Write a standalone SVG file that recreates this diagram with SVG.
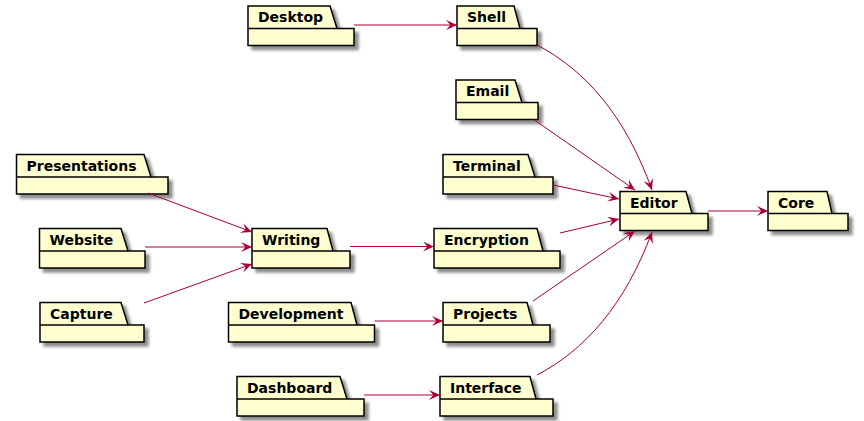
<svg xmlns="http://www.w3.org/2000/svg" width="864" height="421" viewBox="0 0 864 421">
<defs>
<filter id="sh" x="-10%" y="-20%" width="130%" height="160%">
<feGaussianBlur in="SourceAlpha" stdDeviation="1.8" result="b"/>
<feOffset in="b" dx="4" dy="4" result="o"/>
<feComponentTransfer in="o" result="c"><feFuncA type="linear" slope="0.45"/></feComponentTransfer>
<feMerge><feMergeNode in="c"/><feMergeNode in="SourceGraphic"/></feMerge>
</filter>
<marker id="ah" markerUnits="userSpaceOnUse" markerWidth="11" markerHeight="10" viewBox="0 0 10 9" refX="10" refY="4.5" orient="auto">
<path d="M0,0 L10,4.5 L0,9 L4,4.5 Z" fill="#A80036"/>
</marker>
</defs>
<style>
.pk{fill:#FEFECE;stroke:#000;stroke-width:1.5;filter:url(#sh)}
.ln{fill:none;stroke:#000;stroke-width:1.5}
.t{font-family:"DejaVu Sans",sans-serif;font-weight:bold;font-size:14px;fill:#000}
.e{fill:none;stroke:#A80036;stroke-width:1;marker-end:url(#ah)}
</style>
<rect width="864" height="421" fill="#fff"/>
<g id="Desktop"><path class="pk" d="M248,6 L330,6 L337,28.5 L354,28.5 L354,45.5 L248,45.5 Z"/><path class="ln" d="M248,28.5 L337,28.5"/><text class="t" x="258" y="22">Desktop</text></g>
<g id="Shell"><path class="pk" d="M457,6 L514,6 L520,28.5 L537,28.5 L537,45.5 L457,45.5 Z"/><path class="ln" d="M457,28.5 L520,28.5"/><text class="t" x="467" y="22">Shell</text></g>
<g id="Email"><path class="pk" d="M456,80 L515,80 L522,102.5 L538,102.5 L538,119.5 L456,119.5 Z"/><path class="ln" d="M456,102.5 L522,102.5"/><text class="t" x="466" y="96">Email</text></g>
<g id="Terminal"><path class="pk" d="M443,154.5 L528,154.5 L535,177 L553,177 L553,194 L443,194 Z"/><path class="ln" d="M443,177 L535,177"/><text class="t" x="453" y="170.5">Terminal</text></g>
<g id="Editor"><path class="pk" d="M620,191.5 L686,191.5 L692,213.5 L708,213.5 L708,230.5 L620,230.5 Z"/><path class="ln" d="M620,213.5 L692,213.5"/><text class="t" x="630" y="207.5">Editor</text></g>
<g id="Core"><path class="pk" d="M768,191.5 L827,191.5 L832,213.5 L848,213.5 L848,230.5 L768,230.5 Z"/><path class="ln" d="M768,213.5 L832,213.5"/><text class="t" x="778" y="207.5">Core</text></g>
<g id="Presentations"><path class="pk" d="M16.5,154.5 L144,154.5 L151,177 L168,177 L168,194 L16.5,194 Z"/><path class="ln" d="M16.5,177 L151,177"/><text class="t" x="26.5" y="170.5">Presentations</text></g>
<g id="Website"><path class="pk" d="M39.5,228.5 L121,228.5 L128,251 L145,251 L145,268 L39.5,268 Z"/><path class="ln" d="M39.5,251 L128,251"/><text class="t" x="49.5" y="244.5">Website</text></g>
<g id="Writing"><path class="pk" d="M252,228.5 L327,228.5 L333,251 L350,251 L350,268 L252,268 Z"/><path class="ln" d="M252,251 L333,251"/><text class="t" x="262" y="244.5">Writing</text></g>
<g id="Capture"><path class="pk" d="M40,302.5 L121,302.5 L128,325 L144,325 L144,342 L40,342 Z"/><path class="ln" d="M40,325 L128,325"/><text class="t" x="50" y="318.5">Capture</text></g>
<g id="Development"><path class="pk" d="M228.5,302.5 L351,302.5 L357,325 L374.5,325 L374.5,342 L228.5,342 Z"/><path class="ln" d="M228.5,325 L357,325"/><text class="t" x="238.5" y="318.5">Development</text></g>
<g id="Dashboard"><path class="pk" d="M237,376.5 L340,376.5 L347,399 L364,399 L364,416 L237,416 Z"/><path class="ln" d="M237,399 L347,399"/><text class="t" x="247" y="392.5">Dashboard</text></g>
<g id="Encryption"><path class="pk" d="M434,228.5 L537,228.5 L543,251 L560,251 L560,268 L434,268 Z"/><path class="ln" d="M434,251 L543,251"/><text class="t" x="444" y="244.5">Encryption</text></g>
<g id="Projects"><path class="pk" d="M443,302.5 L527,302.5 L533,325 L550,325 L550,342 L443,342 Z"/><path class="ln" d="M443,325 L533,325"/><text class="t" x="453" y="318.5">Projects</text></g>
<g id="Interface"><path class="pk" d="M440,376.5 L530,376.5 L536,399 L553,399 L553,416 L440,416 Z"/><path class="ln" d="M440,399 L536,399"/><text class="t" x="450" y="392.5">Interface</text></g>
<g id="connectors">
<path class="e" d="M354,25 L457,25"/>
<path class="e" d="M537,45 C585,70 625,115 652,190"/>
<path class="e" d="M533,119 L635,190"/>
<path class="e" d="M553,185 L619,199"/>
<path class="e" d="M560,233 L619,219"/>
<path class="e" d="M533,301 L635,231"/>
<path class="e" d="M537,375 C585,350 625,305 652,232"/>
<path class="e" d="M708,211 L768,211"/>
<path class="e" d="M148,193 L252,232"/>
<path class="e" d="M145,247 L252,247"/>
<path class="e" d="M144,303 L252,264"/>
<path class="e" d="M350,246.5 L434,246.5"/>
<path class="e" d="M374.5,321 L443,321"/>
<path class="e" d="M364,395 L440,395"/>
</g>
</svg>
